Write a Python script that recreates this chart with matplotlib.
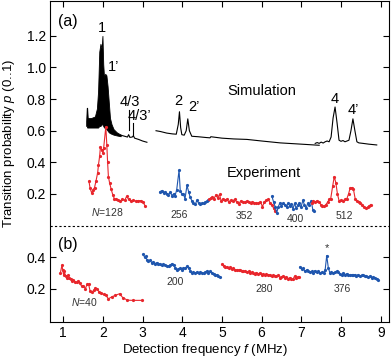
import matplotlib
matplotlib.use("Agg")
import matplotlib.pyplot as plt
import numpy as np

plt.rcParams['font.family'] = ['Liberation Sans', 'DejaVu Sans']
plt.rcParams['mathtext.fontset'] = 'custom'
plt.rcParams['mathtext.it'] = 'Liberation Sans:italic'
plt.rcParams['mathtext.rm'] = 'Liberation Sans'

RED = '#e8262c'
BLUE = '#1f56ae'

# ---------------- (a) simulation ----------------
sim1_x = [1.58, 1.595, 1.605, 1.62, 1.70, 1.80, 1.85, 1.88, 1.91, 1.94, 1.97, 1.99,
          2.01, 2.03, 2.06, 2.09, 2.12, 2.15, 2.18, 2.22, 2.27, 2.35, 2.45]
sim1_upper = [0.66, 0.745, 0.745, 0.68, 0.68, 0.69, 0.74, 0.85, 1.10, 1.15, 1.12, 1.20,
              1.02, 0.94, 0.96, 0.95, 0.88, 0.78, 0.68, 0.64, 0.61, 0.59, 0.575]
sim1_lower = [0.63, 0.63, 0.62, 0.62, 0.62, 0.62, 0.62, 0.62, 0.63, 0.63, 0.64, 0.64,
              0.63, 0.62, 0.62, 0.61, 0.60, 0.59, 0.585, 0.58, 0.575, 0.57, 0.565]
tail_x = [2.45, 2.55, 2.62, 2.65, 2.68, 2.74, 2.77, 2.80, 2.90, 3.00, 3.11]
tail_y = [0.572, 0.565, 0.56, 0.575, 0.558, 0.56, 0.568, 0.553, 0.545, 0.535, 0.527]

sim2_x = [3.34, 3.45, 3.61, 3.75, 3.85, 3.90, 3.93, 3.96, 3.99, 4.05, 4.10, 4.14, 4.18,
          4.24, 4.40, 4.60, 4.70, 4.72, 5.0, 5.3, 5.63, 6.0, 6.47, 7.0, 7.45]
sim2_y = [0.60, 0.595, 0.585, 0.58, 0.578, 0.64, 0.72, 0.62, 0.575, 0.572, 0.60, 0.675, 0.60,
          0.565, 0.562, 0.557, 0.555, 0.562, 0.553, 0.548, 0.545, 0.535, 0.523, 0.515, 0.508]

sim4_x = [7.35, 7.40, 7.45, 7.50, 7.55, 7.60, 7.65, 7.70, 7.75, 7.80, 7.85, 7.90, 7.95,
          8.00, 8.05, 8.10, 8.15, 8.20, 8.25, 8.30, 8.35, 8.40, 8.45, 8.55, 8.70, 8.90]
sim4_y = [0.52, 0.525, 0.52, 0.528, 0.522, 0.53, 0.535, 0.53, 0.56, 0.68, 0.75, 0.65, 0.54,
          0.533, 0.538, 0.53, 0.535, 0.54, 0.60, 0.675, 0.60, 0.53, 0.523, 0.52, 0.515, 0.51]

# ---------------- (a) experiment ----------------
a128_x = [1.65, 1.68, 1.72, 1.75, 1.79, 1.83, 1.87, 1.89, 1.92, 1.94, 1.97, 2.00, 2.02, 2.075,
          2.10, 2.12, 2.14, 2.17, 2.21, 2.25, 2.29, 2.34, 2.39, 2.44, 2.49, 2.55, 2.60, 2.65,
          2.71, 2.77, 2.83, 2.89, 2.95, 3.01, 3.06]
a128_y = [0.28, 0.235, 0.205, 0.225, 0.24, 0.285, 0.335, 0.385, 0.44, 0.50, 0.48, 0.46, 0.49, 0.625,
          0.51, 0.40, 0.31, 0.27, 0.23, 0.195, 0.17, 0.165, 0.16, 0.155, 0.165, 0.16, 0.185, 0.165,
          0.155, 0.16, 0.155, 0.158, 0.158, 0.15, 0.127]

a256_x = [3.44, 3.48, 3.53, 3.57, 3.61, 3.65, 3.70, 3.74, 3.78, 3.82, 3.86, 3.92, 3.95, 3.99,
          4.03, 4.07, 4.12, 4.16, 4.20, 4.24, 4.28, 4.33, 4.37, 4.41, 4.45, 4.50, 4.54, 4.58,
          4.62, 4.66]
a256_y = [0.215, 0.22, 0.205, 0.215, 0.20, 0.195, 0.21, 0.19, 0.20, 0.19, 0.225, 0.35, 0.22, 0.20,
          0.20, 0.17, 0.255, 0.215, 0.18, 0.158, 0.143, 0.135, 0.16, 0.143, 0.135, 0.143, 0.14, 0.147,
          0.153, 0.16]

a352_x = [4.68, 4.72, 4.76, 4.80, 4.85, 4.89, 4.94, 4.98, 5.03, 5.07, 5.12, 5.17, 5.22, 5.27,
          5.32, 5.37, 5.42, 5.47, 5.52, 5.57, 5.62, 5.67, 5.72, 5.77, 5.82, 5.87, 5.92, 5.97,
          6.02, 6.07, 6.12, 6.17, 6.21, 6.26, 6.30, 6.34]
a352_y = [0.165, 0.175, 0.18, 0.17, 0.195, 0.175, 0.197, 0.155, 0.17, 0.16, 0.167, 0.15, 0.16, 0.157,
          0.165, 0.15, 0.135, 0.155, 0.15, 0.147, 0.155, 0.147, 0.14, 0.15, 0.145, 0.14, 0.14, 0.15,
          0.12, 0.15, 0.16, 0.165, 0.145, 0.133, 0.11, 0.09]

a400_x = [6.26, 6.30, 6.34, 6.38, 6.42, 6.46, 6.50, 6.55, 6.59, 6.63, 6.67, 6.71, 6.75, 6.79,
          6.83, 6.87, 6.91, 6.95, 6.99, 7.04, 7.08, 7.12, 7.16, 7.20, 7.25, 7.29, 7.33]
a400_y = [0.185, 0.15, 0.12, 0.08, 0.12, 0.143, 0.125, 0.14, 0.13, 0.12, 0.14, 0.125, 0.135, 0.106,
          0.14, 0.11, 0.13, 0.14, 0.115, 0.16, 0.13, 0.11, 0.14, 0.13, 0.155, 0.10, 0.09]

a512_x = [7.26, 7.30, 7.35, 7.40, 7.45, 7.49, 7.53, 7.57, 7.61, 7.66, 7.70, 7.74, 7.79, 7.83,
          7.87, 7.91, 7.95, 8.00, 8.05, 8.09, 8.14, 8.19, 8.23, 8.27, 8.31, 8.36, 8.40, 8.45,
          8.49, 8.54, 8.58, 8.63, 8.67, 8.71, 8.75]
a512_y = [0.14, 0.155, 0.15, 0.157, 0.15, 0.133, 0.125, 0.122, 0.13, 0.147, 0.165, 0.17, 0.25, 0.31,
          0.27, 0.20, 0.158, 0.16, 0.155, 0.165, 0.165, 0.20, 0.238, 0.24, 0.234, 0.165, 0.155, 0.15,
          0.143, 0.133, 0.12, 0.11, 0.115, 0.125, 0.133]

# ---------------- (b) experiment ----------------
b40_x = [0.93, 0.97, 0.99, 1.01, 1.03, 1.06, 1.09, 1.12, 1.16, 1.19, 1.22, 1.26, 1.30, 1.34,
         1.38, 1.42, 1.47, 1.51, 1.56, 1.60, 1.64, 1.68, 1.73, 1.77, 1.81, 1.86, 1.91, 1.96,
         2.02, 2.08, 2.14, 2.23, 2.31, 2.42, 2.50, 2.62, 2.77, 2.98]
b40_y = [0.30, 0.35, 0.32, 0.29, 0.31, 0.28, 0.27, 0.285, 0.27, 0.26, 0.25, 0.255, 0.245, 0.24,
         0.25, 0.235, 0.215, 0.22, 0.20, 0.228, 0.23, 0.185, 0.18, 0.19, 0.205, 0.196, 0.18, 0.171,
         0.165, 0.158, 0.137, 0.15, 0.158, 0.169, 0.145, 0.128, 0.127, 0.127]

b200_x = [3.02, 3.05, 3.08, 3.11, 3.15, 3.19, 3.23, 3.27, 3.31, 3.36, 3.40, 3.44, 3.48, 3.52,
          3.57, 3.61, 3.66, 3.70, 3.74, 3.78, 3.82, 3.86, 3.90, 3.95, 3.99, 4.03, 4.08, 4.12,
          4.16, 4.20, 4.24, 4.28, 4.33, 4.37, 4.41, 4.45, 4.49, 4.54, 4.58, 4.62, 4.66, 4.70,
          4.75, 4.79, 4.83, 4.87, 4.91, 4.95]
b200_y = [0.418, 0.40, 0.405, 0.385, 0.375, 0.38, 0.365, 0.37, 0.36, 0.365, 0.354, 0.36, 0.35, 0.355,
          0.352, 0.347, 0.345, 0.35, 0.359, 0.35, 0.333, 0.32, 0.325, 0.33, 0.322, 0.33, 0.33, 0.344,
          0.33, 0.315, 0.30, 0.305, 0.30, 0.306, 0.30, 0.305, 0.30, 0.298, 0.305, 0.312, 0.30, 0.31,
          0.30, 0.295, 0.29, 0.285, 0.28, 0.276]

b280_x = [5.00, 5.04, 5.08, 5.12, 5.17, 5.21, 5.25, 5.29, 5.33, 5.37, 5.42, 5.46, 5.50, 5.54,
          5.58, 5.62, 5.67, 5.71, 5.75, 5.79, 5.83, 5.87, 5.92, 5.96, 6.00, 6.04, 6.08, 6.12,
          6.17, 6.21, 6.25, 6.29, 6.33, 6.37, 6.42, 6.46, 6.50, 6.54, 6.58, 6.62, 6.67, 6.71,
          6.75, 6.79, 6.83, 6.87, 6.91, 6.93]
b280_y = [0.354, 0.345, 0.34, 0.335, 0.33, 0.335, 0.325, 0.33, 0.322, 0.32, 0.318, 0.322, 0.31, 0.315,
          0.31, 0.305, 0.31, 0.30, 0.305, 0.30, 0.296, 0.303, 0.295, 0.30, 0.29, 0.295, 0.285, 0.292,
          0.285, 0.29, 0.28, 0.285, 0.283, 0.278, 0.285, 0.27, 0.275, 0.28, 0.27, 0.276, 0.265, 0.27,
          0.262, 0.26, 0.28, 0.268, 0.275, 0.277]

b376_x = [6.97, 7.01, 7.05, 7.09, 7.14, 7.18, 7.22, 7.26, 7.30, 7.34, 7.39, 7.43, 7.47, 7.51,
          7.56, 7.60, 7.64, 7.68, 7.72, 7.76, 7.81, 7.85, 7.89, 7.93, 7.97, 8.02, 8.06, 8.10,
          8.14, 8.18, 8.23, 8.27, 8.31, 8.35, 8.39, 8.43, 8.48, 8.52, 8.56, 8.60, 8.64, 8.68,
          8.73, 8.77, 8.81, 8.85, 8.90, 8.94]
b376_y = [0.34, 0.325, 0.33, 0.31, 0.32, 0.31, 0.306, 0.31, 0.30, 0.315, 0.305, 0.31, 0.30, 0.305,
          0.30, 0.32, 0.41, 0.333, 0.30, 0.305, 0.30, 0.305, 0.31, 0.306, 0.295, 0.285, 0.30, 0.29,
          0.295, 0.29, 0.285, 0.29, 0.285, 0.29, 0.28, 0.29, 0.28, 0.285, 0.285, 0.28, 0.283, 0.275,
          0.28, 0.27, 0.275, 0.27, 0.262, 0.255]

B_OFFSET = -0.6   # panel (b) is drawn shifted below the dashed line

ytick_pos = [1.2, 1.0, 0.8, 0.6, 0.4, 0.2, 0.4 + B_OFFSET, 0.2 + B_OFFSET]
ytick_lab = ['1.2', '1.0', '0.8', '0.6', '0.4', '0.2', '0.4', '0.2']
xticks = [1, 2, 3, 4, 5, 6, 7, 8, 9]

fig = plt.figure(figsize=(3.91, 3.59), dpi=100)
ax = fig.add_axes([0.128, 0.103, 0.867, 0.894])

# simulation
ax.fill_between(sim1_x, sim1_lower, sim1_upper, color='black', lw=0.6)
ax.plot(tail_x, tail_y, color='black', lw=0.8)
ax.plot(sim2_x, sim2_y, color='black', lw=0.8)
ax.plot(sim4_x, sim4_y, color='black', lw=0.8)
# 4/3 markers
ax.plot([2.655, 2.655], [0.603, 0.734], color='black', lw=0.8)
ax.plot([2.77, 2.77], [0.576, 0.65], color='black', lw=0.8)

mk = dict(marker='o', ms=2.3, lw=0.8, mew=0)
for xs, ys, c in [(a128_x, a128_y, RED), (a256_x, a256_y, BLUE), (a352_x, a352_y, RED),
                  (a400_x, a400_y, BLUE), (a512_x, a512_y, RED)]:
    ax.plot(xs, ys, color=c, **mk)
for xs, ys, c in [(b40_x, b40_y, RED), (b200_x, b200_y, BLUE), (b280_x, b280_y, RED),
                  (b376_x, b376_y, BLUE)]:
    ax.plot(xs, np.array(ys) + B_OFFSET, color=c, **mk)

ax.axhline(0.0, color='black', lw=0.8, ls=(0, (2, 2)))

ax.set_xlim(0.67, 9.21)
ax.set_ylim(-0.61, 1.42)
ax.set_xticks(xticks)
ax.set_xticklabels([str(t) for t in xticks])
ax.set_yticks(ytick_pos)
ax.set_yticklabels(ytick_lab)
ax.tick_params(direction='in', length=4, width=0.8, top=True, right=True, labelsize=10, pad=3)
for s in ax.spines.values():
    s.set_linewidth(0.8)

ax.set_xlabel('Detection frequency $f$ (MHz)', fontsize=9.5)
ax.set_ylabel('Transition probability $p$ (0..1)', fontsize=9.5)
ax.xaxis.set_label_coords(0.457, -0.062)
ax.yaxis.set_label_coords(-0.098, 0.555)

ts = 10.5
ax.text(1.13, 1.29, '(a)', fontsize=11.5, ha='center', va='center')
ax.text(1.13, 0.48 + B_OFFSET, '(b)', fontsize=11.5, ha='center', va='center')
ax.text(1.975, 1.25, '1', fontsize=ts, ha='center', va='center')
ax.text(2.27, 1.00, '1\u2019', fontsize=ts, ha='center', va='center')
ax.text(2.68, 0.78, '4/3', fontsize=ts, ha='center', va='center')
ax.text(2.93, 0.69, '4/3\u2019', fontsize=ts, ha='center', va='center')
ax.text(3.91, 0.79, '2', fontsize=ts, ha='center', va='center')
ax.text(4.30, 0.75, '2\u2019', fontsize=ts, ha='center', va='center')
ax.text(7.83, 0.80, '4', fontsize=ts, ha='center', va='center')
ax.text(8.31, 0.73, '4\u2019', fontsize=ts, ha='center', va='center')
ax.text(6.0, 0.85, 'Simulation', fontsize=10.5, ha='center', va='center')
ax.text(6.05, 0.335, 'Experiment', fontsize=10.5, ha='center', va='center')

ss = 7.5
ax.text(2.10, 0.084, '$N$=128', fontsize=ss, ha='center', va='center', color='#333333')
ax.text(3.92, 0.07, '256', fontsize=ss, ha='center', va='center', color='#333333')
ax.text(5.56, 0.06, '352', fontsize=ss, ha='center', va='center', color='#333333')
ax.text(6.86, 0.042, '400', fontsize=ss, ha='center', va='center', color='#333333')
ax.text(8.09, 0.06, '512', fontsize=ss, ha='center', va='center', color='#333333')
ax.text(1.53, 0.118 + B_OFFSET, '$N$=40', fontsize=ss, ha='center', va='center', color='#333333')
ax.text(3.82, 0.243 + B_OFFSET, '200', fontsize=ss, ha='center', va='center', color='#333333')
ax.text(6.07, 0.20 + B_OFFSET, '280', fontsize=ss, ha='center', va='center', color='#333333')
ax.text(8.02, 0.20 + B_OFFSET, '376', fontsize=ss, ha='center', va='center', color='#333333')
ax.text(7.64, 0.455 + B_OFFSET, '*', fontsize=8, ha='center', va='center', color='#333333')

fig.savefig('out.png', dpi=100)
